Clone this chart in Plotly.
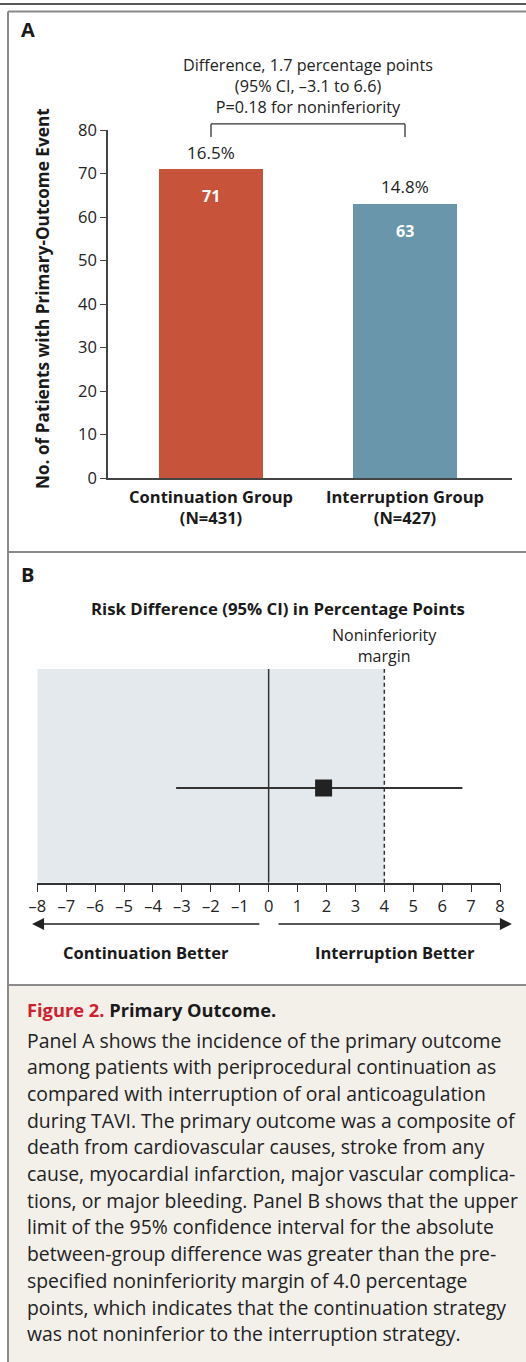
import plotly.graph_objects as go

W, H = 526, 1362

# ---------------- data ----------------
groups = ["Continuation Group", "Interruption Group"]
group_n = [431, 427]
events = [71, 63]
event_pct = [16.5, 14.8]
bar_colors = ["#c7533a", "#6a96ac"]
y_ticks = [0, 10, 20, 30, 40, 50, 60, 70, 80]

diff_lines = ["Difference, 1.7 percentage points",
              "(95% CI, \u20133.1 to 6.6)",
              "P=0.18 for noninferiority"]

rd_est = 1.9
rd_low = -3.2
rd_high = 6.7
ni_margin = 4.0
rd_ticks = [-8, -7, -6, -5, -4, -3, -2, -1, 0, 1, 2, 3, 4, 5, 6, 7, 8]
rd_ticklabels = ["\u20138", "\u20137", "\u20136", "\u20135", "\u20134", "\u20133", "\u20132", "\u20131",
                 "0", "1", "2", "3", "4", "5", "6", "7", "8"]

caption_title_red = "Figure 2."
caption_title = "Primary Outcome."
caption_lines = [
    "Panel A shows the incidence of the primary outcome",
    "among patients with periprocedural continuation as",
    "compared with interruption of oral anticoagulation",
    "during TAVI. The primary outcome was a composite of",
    "death from cardiovascular causes, stroke from any",
    "cause, myocardial infarction, major vascular complica-",
    "tions, or major bleeding. Panel B shows that the upper",
    "limit of the 95% confidence interval for the absolute",
    "between-group difference was greater than the pre-",
    "specified noninferiority margin of 4.0 percentage",
    "points, which indicates that the continuation strategy",
    "was not noninferior to the interruption strategy.",
]

FONT = "Open Sans"
DARK = "#222222"


def px_x(x):
    return x / W


def px_y(y):
    return 1 - y / H


def note(**kw):
    d = dict(showarrow=False, xanchor="center", yanchor="middle")
    d.update(kw)
    return d


# layout geometry (pixels)
A_left, A_right, A_top, A_bottom = 108, 512, 130, 478
B_left, B_right, B_top, B_bottom = 37.3, 500, 669, 882.7

fig = go.Figure()

# ---------------- Panel A ----------------
fig.add_trace(go.Bar(
    x=groups, y=events, marker_color=bar_colors, marker_line_width=0,
    width=0.536, xaxis="x", yaxis="y", showlegend=False, hoverinfo="skip"))

ann = []
shapes = []

for g, v, p in zip(groups, events, event_pct):
    ann.append(note(x=g, y=v, xref="x", yref="y", yshift=17, text=f"{p}%",
                    font=dict(family=FONT, size=17, color=DARK)))
    ann.append(note(x=g, y=v, xref="x", yref="y", yshift=-27, text=f"<b>{v}</b>",
                    font=dict(family=FONT, size=16, color="white")))

A_dom = (px_y(A_bottom), px_y(A_top))


def a_val_to_paper(v):
    return A_dom[0] + v / 80.0 * (A_dom[1] - A_dom[0])


br_top = a_val_to_paper(81.4)
br_tip = a_val_to_paper(78.4)
bline = dict(color="#333333", width=1.3)
shapes.append(dict(type="line", xref="x", yref="paper", x0=0, x1=1, y0=br_top, y1=br_top, line=bline))
shapes.append(dict(type="line", xref="x", yref="paper", x0=0, x1=0, y0=br_top, y1=br_tip, line=bline))
shapes.append(dict(type="line", xref="x", yref="paper", x0=1, x1=1, y0=br_top, y1=br_tip, line=bline))

ann.append(note(x=0.5, y=px_y(86), xref="x", yref="paper", text="<br>".join(diff_lines),
                font=dict(family=FONT, size=16.2, color=DARK)))

ann.append(note(x=px_x(19), y=px_y(30), xref="paper", yref="paper", xanchor="left",
                text="<b>A</b>", font=dict(family=FONT, size=20, color="#1a1a1a")))
ann.append(note(x=px_x(42), y=px_y(299), xref="paper", yref="paper", textangle=-90,
                text="<b>No. of Patients with Primary-Outcome Event</b>",
                font=dict(family=FONT, size=17.2, color="#1a1a1a")))

# ---------------- Panel B ----------------
shapes.append(dict(type="rect", xref="x2", yref="y2", x0=-8, x1=ni_margin, y0=0, y1=1,
                   fillcolor="#e4e9ee", line=dict(width=0), layer="below"))
shapes.append(dict(type="line", xref="x2", yref="y2", x0=0, x1=0, y0=0, y1=1,
                   line=dict(color="#333333", width=1.5)))
shapes.append(dict(type="line", xref="x2", yref="y2", x0=ni_margin, x1=ni_margin, y0=0, y1=1,
                   line=dict(color="#333333", width=1.5, dash="4px,3px")))

ci_row = 0.443
fig.add_trace(go.Scatter(x=[rd_low, rd_high], y=[ci_row, ci_row], mode="lines",
                         line=dict(color="#333333", width=2), xaxis="x2", yaxis="y2",
                         showlegend=False, hoverinfo="skip"))
fig.add_trace(go.Scatter(x=[rd_est], y=[ci_row], mode="markers",
                         marker=dict(symbol="square", size=17, color="#222222"),
                         xaxis="x2", yaxis="y2", showlegend=False, hoverinfo="skip"))

ann.append(note(x=px_x(19), y=px_y(574.5), xref="paper", yref="paper", xanchor="left",
                text="<b>B</b>", font=dict(family=FONT, size=20, color="#1a1a1a")))
ann.append(note(x=px_x(278), y=px_y(608), xref="paper", yref="paper",
                text="<b>Risk Difference (95% CI) in Percentage Points</b>",
                font=dict(family=FONT, size=16.8, color="#1a1a1a")))
ann.append(note(x=ni_margin, y=px_y(645), xref="x2", yref="paper",
                text="Noninferiority<br>margin",
                font=dict(family=FONT, size=16, color=DARK)))

# direction arrows
arrow_y = px_y(924)
ann.append(dict(x=-8.18, y=arrow_y, xref="x2", yref="paper", ax=-0.27, ay=0,
                axref="x2", ayref="pixel", text="", showarrow=True, arrowhead=2,
                arrowsize=1.6, arrowwidth=1.5, arrowcolor="#222222"))
ann.append(dict(x=8.41, y=arrow_y, xref="x2", yref="paper", ax=0.29, ay=0,
                axref="x2", ayref="pixel", text="", showarrow=True, arrowhead=2,
                arrowsize=1.6, arrowwidth=1.5, arrowcolor="#222222"))
ann.append(note(x=px_x(146), y=px_y(952), xref="paper", yref="paper",
                text="<b>Continuation Better</b>",
                font=dict(family=FONT, size=16.5, color="#1a1a1a")))
ann.append(note(x=px_x(395), y=px_y(952), xref="paper", yref="paper",
                text="<b>Interruption Better</b>",
                font=dict(family=FONT, size=16.5, color="#1a1a1a")))

# ---------------- frame & caption ----------------
shapes.append(dict(type="rect", xref="paper", yref="paper", x0=px_x(9), x1=1,
                   y0=0, y1=px_y(986), fillcolor="#f3f0ea", line=dict(width=0), layer="below"))
shapes.append(dict(type="line", xref="paper", yref="paper", x0=0, x1=1, y0=px_y(4), y1=px_y(4),
                   line=dict(color="#222222", width=1.5)))
grey = dict(color="#8a8a8a", width=2)
shapes.append(dict(type="line", xref="paper", yref="paper", x0=px_x(8), x1=1,
                   y0=px_y(11.5), y1=px_y(11.5), line=grey))
shapes.append(dict(type="line", xref="paper", yref="paper", x0=px_x(8), x1=px_x(8),
                   y0=px_y(11.5), y1=0, line=grey))
for yy in [552, 985]:
    shapes.append(dict(type="line", xref="paper", yref="paper", x0=px_x(8), x1=1,
                       y0=px_y(yy), y1=px_y(yy), line=grey))

ann.append(note(x=px_x(25), y=px_y(1009), xref="paper", yref="paper", xanchor="left",
                text=f"<b><span style='color:#d0202e'>{caption_title_red}</span> {caption_title}</b>",
                font=dict(family=FONT, size=18.3, color="#1a1a1a")))
for i, line in enumerate(caption_lines):
    ann.append(note(x=px_x(25), y=px_y(1040 + i * 26.7), xref="paper", yref="paper",
                    xanchor="left", text=line,
                    font=dict(family=FONT, size=19.4, color="#222222")))

fig.update_layout(
    width=W, height=H, margin=dict(l=0, r=0, t=0, b=0, pad=0, autoexpand=False),
    paper_bgcolor="white", plot_bgcolor="rgba(0,0,0,0)",
    font=dict(family=FONT, color=DARK), showlegend=False,
    xaxis=dict(domain=[px_x(A_left), px_x(A_right)], anchor="y", type="category",
               range=[-0.531, 1.5515], tickvals=groups,
               ticktext=[f"<b>{g}<br>(N={n})</b>" for g, n in zip(groups, group_n)],
               tickfont=dict(family=FONT, size=16.5, color="#1a1a1a"), ticklabelstandoff=3,
               showline=True, linecolor="#444444", linewidth=1.5, ticks="",
               showgrid=False, zeroline=False, fixedrange=True, automargin=False),
    yaxis=dict(domain=list(A_dom), anchor="x", range=[0, 80], tickvals=y_ticks,
               ticks="outside", ticklen=6, tickcolor="#444444", tickwidth=1.3,
               showline=True, linecolor="#444444", linewidth=1.5,
               tickfont=dict(family=FONT, size=16.5, color="#222222"),
               showgrid=False, zeroline=False, fixedrange=True, automargin=False),
    xaxis2=dict(domain=[px_x(B_left), px_x(B_right)], anchor="y2", range=[-8, 8],
                tickvals=rd_ticks, ticktext=rd_ticklabels, ticks="outside", ticklen=8,
                tickcolor="#333333", tickwidth=1.3, showline=True, linecolor="#333333",
                linewidth=1.5, tickfont=dict(family=FONT, size=16.5, color="#222222"),
                showgrid=False, zeroline=False, fixedrange=True, automargin=False),
    yaxis2=dict(domain=[px_y(B_bottom), px_y(B_top)], anchor="x2", range=[0, 1],
                visible=False, fixedrange=True, automargin=False),
    annotations=ann, shapes=shapes, bargap=0,
)

fig.write_html("out.html", config={"displayModeBar": False},
               post_script="document.body.style.margin='0px';")
